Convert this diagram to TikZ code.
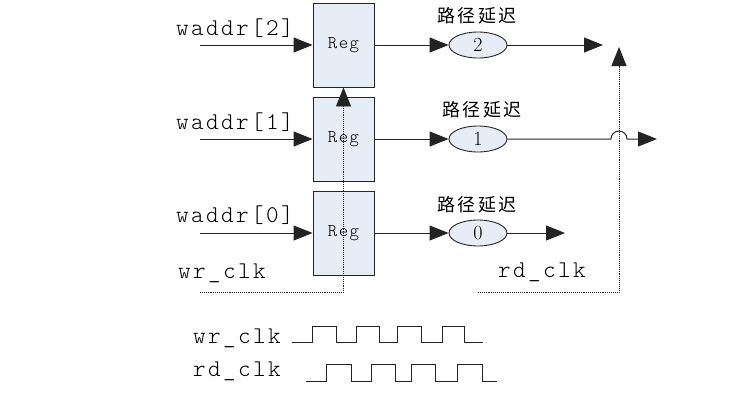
\documentclass[tikz,border=0pt]{standalone}
\usepackage{fontspec}
\newfontfamily\cjkfont{Noto Sans CJK SC}
\newfontfamily\monofont{lmmonolt10-regular.otf}
\usetikzlibrary{arrows.meta,shapes.geometric}
\definecolor{regfill}{RGB}{230,237,247}
\definecolor{wirecol}{RGB}{35,35,35}
\tikzset{
    reg/.style={draw=wirecol, fill=regfill, line width=0.9pt, minimum width=61pt, minimum height=84pt, inner sep=0pt,
        font=\fontsize{18}{18}\monofont\addfontfeature{LetterSpace=8}},
    delay/.style={ellipse, draw=wirecol, fill=regfill, line width=0.9pt, minimum width=58pt, minimum height=26pt, inner sep=0pt,
        font=\fontsize{20}{20}\selectfont},
    sig/.style={anchor=west, inner sep=0pt, font=\fontsize{24}{24}\monofont\addfontfeature{LetterSpace=10}},
    tag/.style={inner sep=0pt, font=\fontsize{18}{18}\cjkfont\addfontfeature{LetterSpace=12}},
    tip/.style={-{Triangle[length=19pt,width=15pt]}},
    wire/.style={draw=wirecol, line width=1pt, tip},
    clk/.style={draw=wirecol, line width=0.9pt, densely dotted, tip},
    wave/.style={draw=wirecol, line width=1pt},
}
\begin{document}
\begin{tikzpicture}[x=1pt, y=-1pt]
    \useasboundingbox (0,0) rectangle (740,402);
    \node [reg] (reg2) at (343.5,45) {Reg};
    \node [reg] (reg1) at (343.5,139) {Reg};
    \node [reg] (reg0) at (343.5,233) {Reg};
    \node [delay] (dly2) at (478,45) {2};
    \node [delay] (dly1) at (478,139) {1};
    \node [delay] (dly0) at (478,233) {0};
    \node [tag] (tag2) at (477,15.5) {路径延迟};
    \node [tag] (tag1) at (482,109.5) {路径延迟};
    \node [tag] (tag0) at (477,205) {路径延迟};
    \node [sig] (waddr2) at (176,28) {waddr[2]};
    \node [sig] (waddr1) at (176,122) {waddr[1]};
    \node [sig] (waddr0) at (176,215) {waddr[0]};
    \node [sig] (wrlbl) at (178,273) {wr\_clk};
    \node [sig] (rdlbl) at (498,272) {rd\_clk};
    \node [sig] (wrwave) at (193,338) {wr\_clk};
    \node [sig] (rdwave) at (193,371) {rd\_clk};
    \coordinate (in2) at (200,45);
    \coordinate (in1) at (200,139);
    \coordinate (in0) at (200,233);
    \coordinate (out2) at (603,45);
    \coordinate (hop) at (611,139);
    \coordinate (out1) at (657,139);
    \coordinate (out0) at (565,233);
    \coordinate (wrin) at (200,292);
    \coordinate (rdin) at (478,292);
    \coordinate (rdup) at (619,47);
    \draw [wire] (in2) -- (reg2);
    \draw [wire] (in1) -- (reg1);
    \draw [wire] (in0) -- (reg0);
    \draw [wire] (reg2) -- (dly2);
    \draw [wire] (reg1) -- (dly1);
    \draw [wire] (reg0) -- (dly0);
    \draw [wire] (dly2) -- (out2);
    \draw [wire] (dly1) -- (hop) arc [start angle=180, end angle=0, radius=8pt] -- (out1);
    \draw [wire] (dly0) -- (out0);
    \draw [clk] (wrin) -| (reg2.south);
    \draw [clk] (rdin) -| (rdup);
    \draw [wave] (292,342) -- (312,342) -- (312,326) -- (336,326) -- (336,342) -- (356,342) -- (356,326) -- (379,326)
        -- (379,342) -- (397,342) -- (397,326) -- (421,326) -- (421,342) -- (442,342) -- (442,326) -- (464,326)
        -- (464,342) -- (483,342);
    \draw [wave] (306,381) -- (326,381) -- (326,364) -- (351,364) -- (351,381) -- (371,381) -- (371,364) -- (395,364)
        -- (395,381) -- (411,381) -- (411,364) -- (435,364) -- (435,381) -- (457,381) -- (457,364) -- (482,364)
        -- (482,381) -- (497,381);
\end{tikzpicture}
\end{document}
